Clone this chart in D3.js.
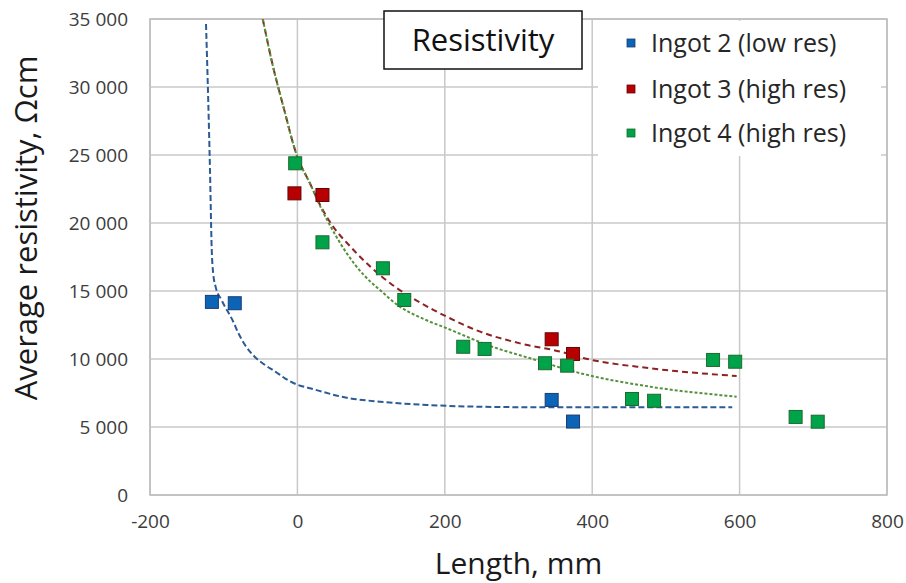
<!DOCTYPE html>
<html>
<head>
<meta charset="utf-8">
<script src="https://cdn.jsdelivr.net/npm/d3@7"></script>
<style>
  body { margin: 0; background: #fff; }
  svg { display: block; font-family: "Open Sans", sans-serif; }
</style>
</head>
<body>
<div id="chartdiv"></div>
<script>
const width = 906;
const height = 583;

const seriesNames = ["Ingot 2 (low res)", "Ingot 3 (high res)", "Ingot 4 (high res)"];
const ingot2X = [-116, -85, 345, 374];
const ingot2Y = [14200, 14100, 6990, 5400];
const ingot3X = [-4, 34, 345, 374];
const ingot3Y = [22180, 22060, 11450, 10370];
const ingot4X = [-3, 34, 116, 145, 225, 254, 336, 366, 454, 484, 564, 594, 676, 706];
const ingot4Y = [24390, 18580, 16670, 14340, 10900, 10740, 9690, 9510, 7060, 6930, 9930, 9800, 5740, 5390];

// trendlines (as drawn in the picture)
const trend2X = [-124, -121, -118.6, -116.3, -114, -111, -103, -87, -80, -71, -58, -44, -30, -17, 1, 17, 67, 112, 176, 248, 339, 590];
const trend2Y = [34630, 29040, 23900, 18140, 16180, 15320, 14340, 12740, 11890, 11030, 10170, 9560, 9070, 8580, 8090, 7850, 7150, 6860, 6620, 6490, 6450, 6450];
const trend3X = [-47, -33, -19, -1, 17, 33, 47, 72, 99, 126, 153, 185, 203, 248, 302, 357, 388, 479, 596];
const trend3Y = [35000, 31490, 28550, 25000, 22920, 21100, 19850, 18260, 16790, 15570, 14580, 13600, 13100, 12010, 11150, 10540, 10070, 9320, 8750];
const trend4X = [-47, -33, -19, -1, 17, 33, 49, 67, 90, 112, 139, 171, 203, 262, 316, 388, 479, 596];
const trend4Y = [35000, 31490, 28550, 25000, 22920, 21000, 19360, 17770, 16180, 15070, 13850, 12950, 12250, 10950, 10050, 8900, 7960, 7230];

const xTicks = [-200, 0, 200, 400, 600, 800];
const yTicks = [0, 5000, 10000, 15000, 20000, 25000, 30000, 35000];

const fillColors = ["#0b64b6", "#b80000", "#00a349"];
const edgeColors = ["#1b3c72", "#5e0808", "#1c6a2c"];
const trendColors = ["#2b5a94", "#8e2222", "#55913a"];
const trendDash = ["6,3", "6,4", "3,2"];

const plotL = 150, plotR = 887, plotT = 19, plotB = 495;
const ms = 13; // marker size

var svg = d3.select("div#chartdiv")
    .append("svg")
    .attr("width", width)
    .attr("height", height);

var x = d3.scaleLinear().domain([-200, 800]).range([plotL, plotR]);
var y = d3.scaleLinear().domain([0, 35000]).range([plotB, plotT]);

var spaceFmt = d3.formatLocale({decimal: ".", thousands: " ", grouping: [3], currency: ["", ""]}).format(",");

svg.append("clipPath")
    .attr("id", "plot-clip")
    .append("rect")
    .attr("x", plotL)
    .attr("y", plotT)
    .attr("width", plotR - plotL)
    .attr("height", plotB - plotT);

// gridlines
svg.append("g")
    .selectAll("line.vgrid")
    .data(xTicks)
    .enter()
    .append("line")
    .attr("class", "vgrid")
    .attr("x1", d => x(d)).attr("x2", d => x(d))
    .attr("y1", plotT).attr("y2", plotB)
    .attr("stroke", "#c8c8c8")
    .attr("stroke-width", 1.5);

svg.append("g")
    .selectAll("line.hgrid")
    .data(yTicks)
    .enter()
    .append("line")
    .attr("class", "hgrid")
    .attr("x1", plotL).attr("x2", plotR)
    .attr("y1", d => y(d)).attr("y2", d => y(d))
    .attr("stroke", "#c8c8c8")
    .attr("stroke-width", 1.5);

// legend background hides the grid
svg.append("rect")
    .attr("x", 598)
    .attr("y", 21)
    .attr("width", 283)
    .attr("height", 135)
    .attr("fill", "#fff");

// plot border
svg.append("rect")
    .attr("x", plotL)
    .attr("y", plotT)
    .attr("width", plotR - plotL)
    .attr("height", plotB - plotT)
    .attr("fill", "none")
    .attr("stroke", "#bdbdbd")
    .attr("stroke-width", 1.5);

// axes (labels only)
var xAxis = svg.append("g")
    .attr("transform", "translate(0," + plotB + ")")
    .call(d3.axisBottom(x).tickValues(xTicks).tickSize(0).tickPadding(20).tickFormat(d => String(d)));
var yAxis = svg.append("g")
    .attr("transform", "translate(" + plotL + ",0)")
    .call(d3.axisLeft(y).tickValues(yTicks).tickSize(0).tickPadding(22).tickFormat(spaceFmt));

[xAxis, yAxis].forEach(function(a) {
    a.select("path.domain").remove();
    a.selectAll("text")
        .style("font-family", "'Open Sans', sans-serif")
        .style("font-size", "19px")
        .attr("fill", "#3c3c3c");
});

// trendlines
var trends = [[trend2X, trend2Y], [trend3X, trend3Y], [trend4X, trend4Y]];
var line = d3.line()
    .x(d => x(d[0]))
    .y(d => y(d[1]))
    .curve(d3.curveMonotoneX);

trends.forEach(function(t, i) {
    var pts = t[0].map((v, k) => [v, t[1][k]]);
    svg.append("path")
        .datum(pts)
        .attr("class", "trend")
        .attr("clip-path", "url(#plot-clip)")
        .attr("d", line)
        .attr("fill", "none")
        .attr("stroke", trendColors[i])
        .attr("stroke-width", 2)
        .attr("stroke-dasharray", trendDash[i]);
});

// markers
var series = [[ingot2X, ingot2Y], [ingot3X, ingot3Y], [ingot4X, ingot4Y]];
series.forEach(function(s, i) {
    var pts = s[0].map((v, k) => [v, s[1][k]]);
    svg.selectAll("rect.mark" + i)
        .data(pts)
        .enter()
        .append("rect")
        .attr("class", "mark" + i)
        .attr("x", d => x(d[0]) - ms / 2)
        .attr("y", d => y(d[1]) - ms / 2)
        .attr("width", ms)
        .attr("height", ms)
        .attr("fill", fillColors[i])
        .attr("stroke", edgeColors[i])
        .attr("stroke-width", 1);
});

// legend
var legend = svg.append("g");
var legY = [43, 89, 133];
legend.selectAll("rect.legkey")
    .data(seriesNames)
    .enter()
    .append("rect")
    .attr("class", "legkey")
    .attr("x", 627)
    .attr("y", (d, i) => legY[i] - 4)
    .attr("width", 8)
    .attr("height", 8)
    .attr("fill", (d, i) => fillColors[i])
    .attr("stroke", (d, i) => edgeColors[i])
    .attr("stroke-width", 0.8);

legend.selectAll("text.legtext")
    .data(seriesNames)
    .enter()
    .append("text")
    .attr("class", "legtext")
    .attr("x", 651)
    .attr("y", (d, i) => legY[i] + 9)
    .style("font-size", "25px")
    .attr("fill", "#262626")
    .text(d => d);

// title box
svg.append("rect")
    .attr("x", 384)
    .attr("y", 11)
    .attr("width", 198)
    .attr("height", 58)
    .attr("fill", "#fff")
    .attr("stroke", "#111")
    .attr("stroke-width", 1.5);
svg.append("text")
    .attr("x", 483)
    .attr("y", 51)
    .attr("text-anchor", "middle")
    .style("font-size", "31px")
    .attr("fill", "#111")
    .text("Resistivity");

// axis titles
svg.append("text")
    .attr("x", (plotL + plotR) / 2)
    .attr("y", 574)
    .attr("text-anchor", "middle")
    .style("font-size", "30px")
    .attr("fill", "#1a1a1a")
    .text("Length, mm");

svg.append("text")
    .attr("transform", "translate(37,228) rotate(-90)")
    .attr("text-anchor", "middle")
    .style("font-size", "31px")
    .attr("fill", "#1a1a1a")
    .text("Average resistivity, Ωcm");
</script>
</body>
</html>
